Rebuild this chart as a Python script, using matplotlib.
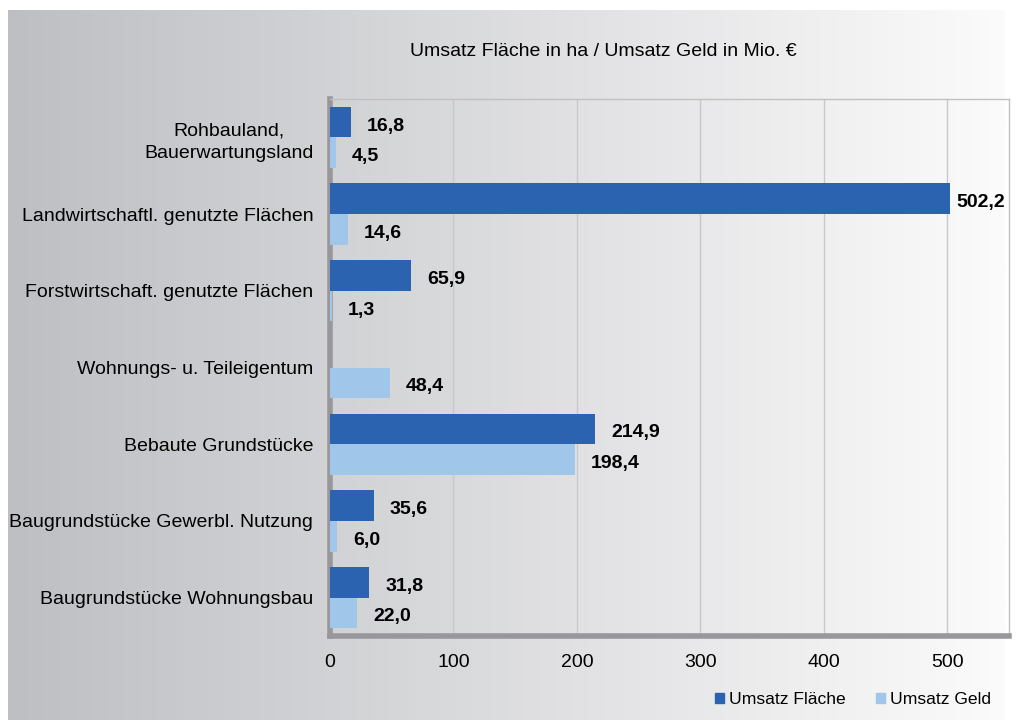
import matplotlib
matplotlib.use("Agg")
import matplotlib.pyplot as plt
import numpy as np
from matplotlib.patches import Patch

plt.rcParams['font.family'] = ['Liberation Sans', 'DejaVu Sans']

categories = [
    "Rohbauland,\nBauerwartungsland",
    "Landwirtschaftl. genutzte Flächen",
    "Forstwirtschaft. genutzte Flächen",
    "Wohnungs- u. Teileigentum",
    "Bebaute Grundstücke",
    "Baugrundstücke Gewerbl. Nutzung",
    "Baugrundstücke Wohnungsbau",
]
flaeche = [16.8, 502.2, 65.9, None, 214.9, 35.6, 31.8]
geld = [4.5, 14.6, 1.3, 48.4, 198.4, 6.0, 22.0]
series_names = ["Umsatz Fläche", "Umsatz Geld"]
title = "Umsatz Fläche in ha / Umsatz Geld in Mio. €"
xticks = [0, 100, 200, 300, 400, 500]

c_dark = "#2b63b1"
c_light = "#a0c6e9"

W, H = 1018, 720
fig = plt.figure(figsize=(W / 100, H / 100), dpi=100)
fig.patch.set_facecolor("white")

# gradient background
bg = fig.add_axes([8 / W, 0, (1004 - 8) / W, 710 / H])
bg.set_axis_off()
left_c = np.array([190, 191, 195]) / 255
right_c = np.array([251, 251, 251]) / 255
t = np.linspace(0, 1, 512)[None, :, None]
grad = left_c[None, None, :] * (1 - t) + right_c[None, None, :] * t
bg.imshow(grad, aspect="auto", extent=[0, 1, 0, 1])
bg.set_xlim(0, 1)
bg.set_ylim(0, 1)

ax = fig.add_axes([330 / W, (H - 636) / H, (1009 - 330) / W, (636 - 99) / H])
ax.set_facecolor("none")

y = np.arange(len(categories))
h = 0.4
f_vals = [np.nan if v is None else v for v in flaeche]
ax.barh(y - h / 2, f_vals, height=h, color=c_dark, zorder=3)
ax.barh(y + h / 2, geld, height=h, color=c_light, zorder=3)

xmax = 550
ax.set_xlim(0, xmax)
ax.set_ylim(len(categories) - 0.5, -0.5)


def fmt(v):
    return f"{v:.1f}".replace(".", ",")


for i, v in enumerate(flaeche):
    if v is None:
        continue
    off = 6 if v > 0.85 * xmax else 16
    ax.annotate(fmt(v), (v, i - h / 2), xytext=(off, -4), textcoords="offset pixels",
                ha="left", va="center", fontsize=14, fontweight="bold", zorder=4)
for i, v in enumerate(geld):
    off = 6 if v > 0.85 * xmax else 16
    ax.annotate(fmt(v), (v, i + h / 2), xytext=(off, -4), textcoords="offset pixels",
                ha="left", va="center", fontsize=14, fontweight="bold", zorder=4)

ax.set_yticks(y)
ax.set_yticklabels(categories, fontsize=14, multialignment="center", linespacing=1.45)
ax.set_xticks(xticks)
ax.set_xticklabels([str(v) for v in xticks], fontsize=14)
ax.tick_params(axis="both", length=0)
ax.tick_params(axis="y", pad=12)
ax.tick_params(axis="x", pad=13)

ax.grid(axis="x", color="#c8c8c8", linewidth=1, zorder=0)
ax.set_axisbelow(True)
for s in ["top", "right"]:
    ax.spines[s].set_color("#c0c0c0")
    ax.spines[s].set_linewidth(1)
for s in ["left", "bottom"]:
    ax.spines[s].set_color("#98989c")
    ax.spines[s].set_linewidth(4)

fig.text(603 / W, 1 - 52 / H, title, ha="center", va="center", fontsize=14)

handles = [Patch(color=c_dark), Patch(color=c_light)]
leg = fig.legend(handles, series_names, loc="center", bbox_to_anchor=(853 / W, 1 - 700 / H),
                 ncol=2, frameon=False, fontsize=12.6, handlelength=0.5, handleheight=0.5,
                 handletextpad=0.3, columnspacing=1.75)

fig.savefig("out.png", dpi=100)
